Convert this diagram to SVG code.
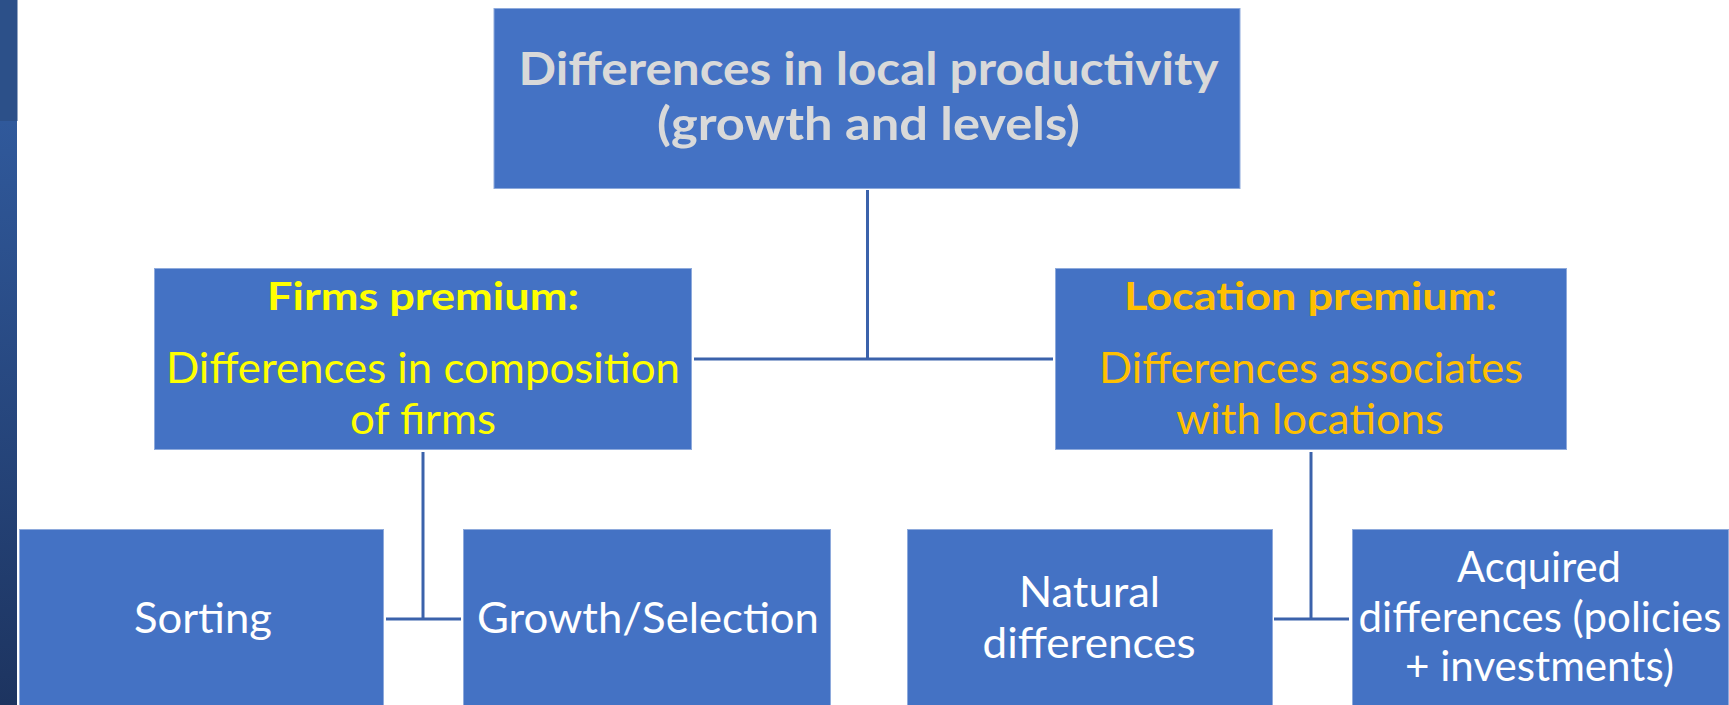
<svg xmlns="http://www.w3.org/2000/svg" width="1729" height="705" viewBox="0 0 1729 705">
  <defs>
    <linearGradient id="stripFade" x1="0" y1="0" x2="0" y2="1">
      <stop offset="0" stop-color="#30599b"/>
      <stop offset="1" stop-color="#1d3460"/>
    </linearGradient>
  </defs>
  <style>
    .box { fill: #4472c4; stroke: #8eaadc; stroke-width: 1; }
    .link { stroke: #3b62ab; stroke-width: 3; fill: none; }
    text { font-family: Lato, "Open Sans", "Noto Sans", sans-serif; text-anchor: middle; }
    .head { font-size: 46px; font-weight: bold; fill: #d9d9d9; }
    .title { font-size: 39px; font-weight: bold; }
    .body { font-size: 43px; }
    .yellow { fill: #ffff00; }
    .amber { fill: #ffc000; }
    .white { fill: #ffffff; }
  </style>

  <!-- slide side band -->
  <g id="side-band">
    <rect x="0" y="0" width="17.5" height="121" fill="#2c5089"/>
    <rect x="0" y="121" width="17" height="584" fill="url(#stripFade)"/>
  </g>

  <!-- connectors -->
  <g id="connectors">
    <line class="link" x1="867.5" y1="190" x2="867.5" y2="359"/>
    <line class="link" x1="694" y1="359" x2="1053" y2="359"/>
    <line class="link" x1="423" y1="452" x2="423" y2="619"/>
    <line class="link" x1="386" y1="619" x2="461" y2="619"/>
    <line class="link" x1="1311" y1="452" x2="1311" y2="619"/>
    <line class="link" x1="1274" y1="619" x2="1349" y2="619"/>
  </g>

  <g id="productivity">
    <rect class="box" x="494" y="8.5" width="746" height="180"/>
    <text class="head" x="868.5" y="85" textLength="700" lengthAdjust="spacingAndGlyphs">Differences in local productivity</text>
    <text class="head" x="868.5" y="140" textLength="423" lengthAdjust="spacingAndGlyphs">(growth and levels)</text>
  </g>

  <g id="firms-premium">
    <rect class="box" x="154.5" y="268.5" width="537" height="181"/>
    <text class="title yellow" x="423" y="310" textLength="312" lengthAdjust="spacingAndGlyphs">Firms premium:</text>
    <text class="body yellow" x="423" y="383" textLength="514" lengthAdjust="spacingAndGlyphs">Differences in composition</text>
    <text class="body yellow" x="423" y="434" textLength="146" lengthAdjust="spacingAndGlyphs">of firms</text>
  </g>

  <g id="location-premium">
    <rect class="box" x="1055.5" y="268.5" width="511" height="181"/>
    <text class="title amber" x="1310.5" y="310" textLength="373" lengthAdjust="spacingAndGlyphs">Location premium:</text>
    <text class="body amber" x="1311" y="383" textLength="424" lengthAdjust="spacingAndGlyphs">Differences associates</text>
    <text class="body amber" x="1310" y="434" textLength="268" lengthAdjust="spacingAndGlyphs">with locations</text>
  </g>

  <g id="sorting">
    <rect class="box" x="19.5" y="529.5" width="364" height="190"/>
    <text class="body white" x="203" y="633" textLength="138" lengthAdjust="spacingAndGlyphs">Sorting</text>
  </g>

  <g id="growth-selection">
    <rect class="box" x="463.5" y="529.5" width="367" height="190"/>
    <text class="body white" x="648" y="633" textLength="342" lengthAdjust="spacingAndGlyphs">Growth/Selection</text>
  </g>

  <g id="natural-differences">
    <rect class="box" x="907.5" y="529.5" width="365" height="190"/>
    <text class="body white" x="1089.5" y="607" textLength="141" lengthAdjust="spacingAndGlyphs">Natural</text>
    <text class="body white" x="1089" y="658" textLength="213" lengthAdjust="spacingAndGlyphs">differences</text>
  </g>

  <g id="acquired-differences">
    <rect class="box" x="1352.5" y="529.5" width="376" height="190"/>
    <text class="body white" x="1539" y="582" textLength="164" lengthAdjust="spacingAndGlyphs">Acquired</text>
    <text class="body white" x="1540" y="632" textLength="363" lengthAdjust="spacingAndGlyphs">differences (policies</text>
    <text class="body white" x="1539.5" y="681" textLength="269" lengthAdjust="spacingAndGlyphs">+ investments)</text>
  </g>
</svg>
